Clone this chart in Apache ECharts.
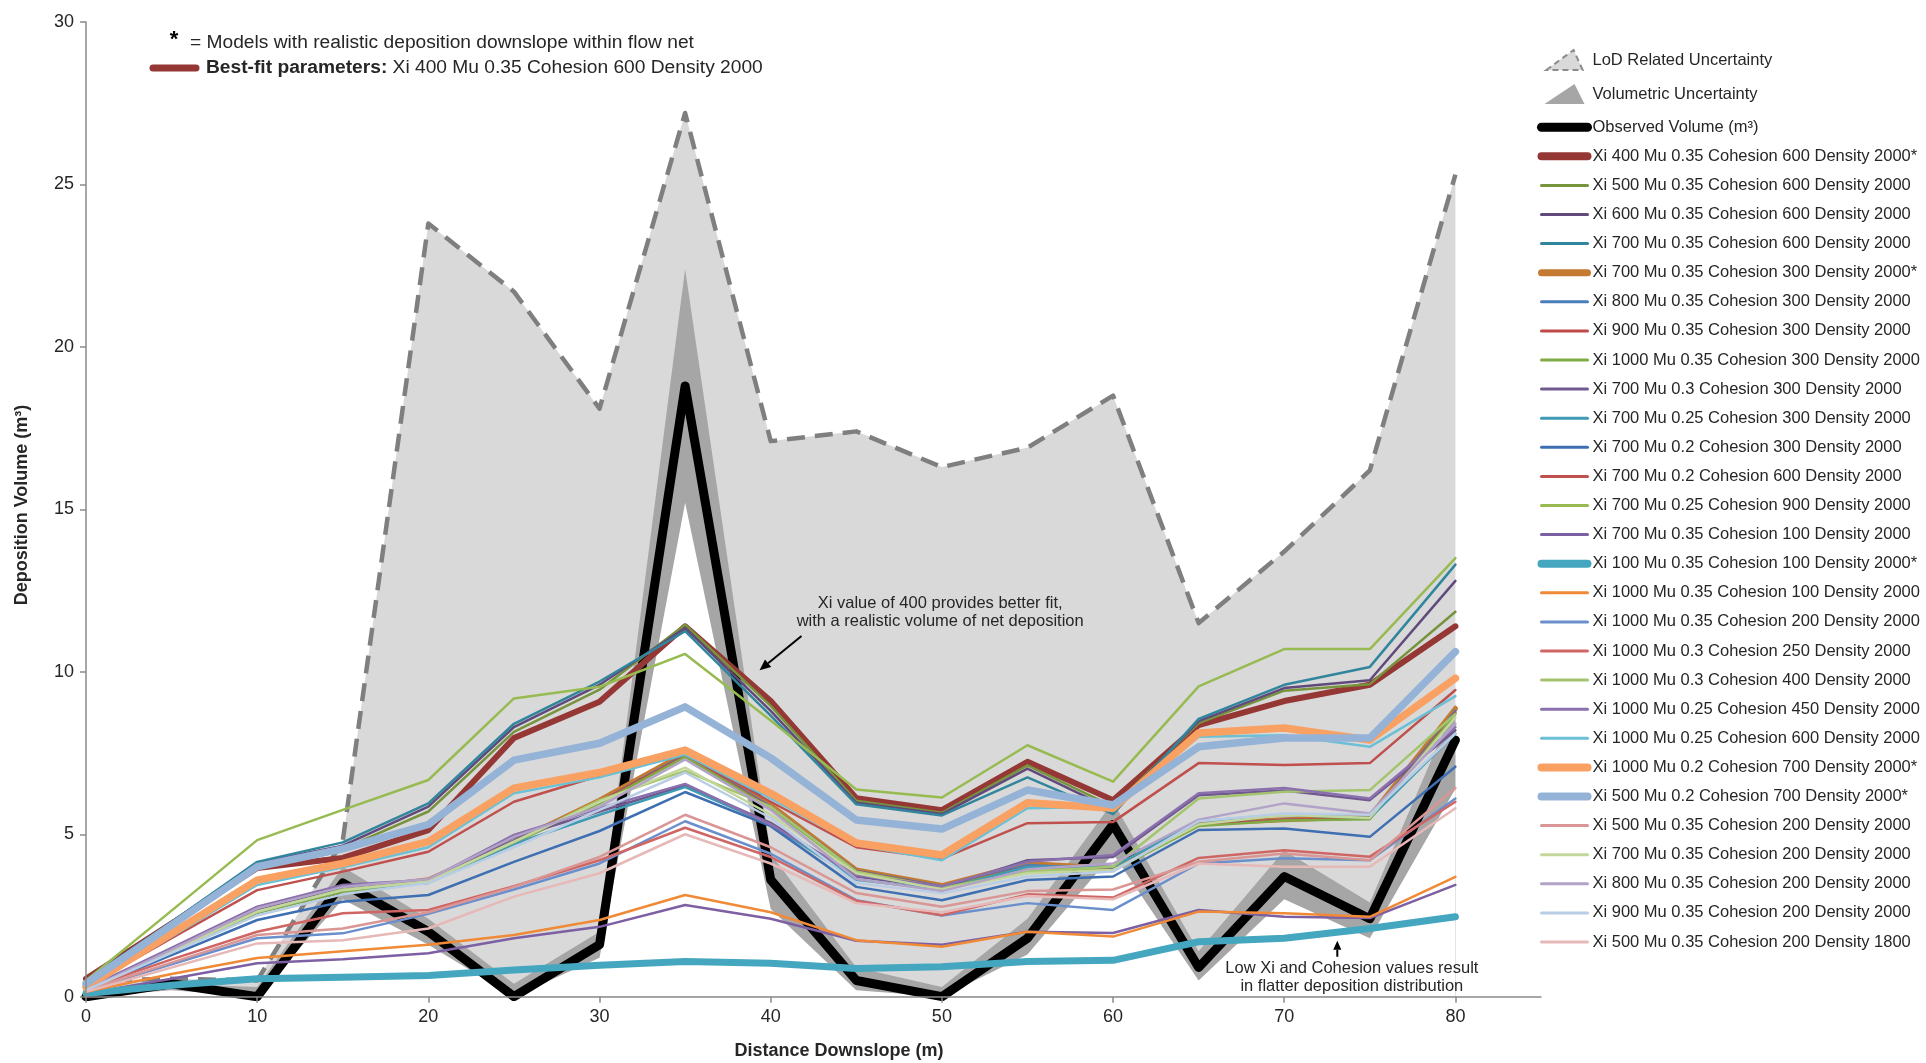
<!DOCTYPE html>
<html>
<head>
<meta charset="utf-8">
<script src="https://cdn.jsdelivr.net/npm/echarts@6.0.0/dist/echarts.min.js"></script>
<style>
  html, body { margin: 0; padding: 0; background: #ffffff; }
  #chart { width: 1926px; height: 1063px; }
</style>
</head>
<body>
<div id="chart"></div>
<script>
// Distance downslope (m) at which deposition was sampled
const distance = [0, 5, 10, 15, 20, 25, 30, 35, 40, 45, 50, 55, 60, 65, 70, 75, 80];
const xTickValues = [0, 10, 20, 30, 40, 50, 60, 70, 80];

// Observed deposition and its uncertainty envelopes (m³)
const observed = [0, 0.4, 0, 3.5, 2.0, 0, 1.6, 18.8, 3.6, 0.5, 0, 1.8, 5.3, 0.9, 3.7, 2.4, 7.9];
const volLower = [0, 0.2, 0, 3.0, 1.6, 0, 1.2, 15.2, 2.7, 0.2, 0, 1.3, 4.4, 0.5, 3.0, 1.8, 6.4];
const volUpper = [0.2, 0.4, 0.3, 4.0, 2.4, 0.4, 2.0, 22.4, 4.4, 0.9, 0.3, 2.4, 6.0, 1.4, 4.5, 2.9, 9.0];
const lodUpper = [0.5, 0.55, 0.5, 4.8, 23.8, 21.7, 18.1, 27.2, 17.1, 17.4, 16.3, 16.9, 18.5, 11.5, 13.7, 16.2, 25.3];

// Modelled deposition for each parameter set (m³)
const xi400_mu035_c600 = [0.55, 2.25, 3.96, 4.27, 5.13, 7.96, 9.08, 11.4, 9.1, 6.11, 5.74, 7.23, 6.05, 8.36, 9.1, 9.6, 11.4];
const xi500_mu035_c600 = [0.5, 2.3, 4.08, 4.55, 5.7, 8.15, 9.45, 11.45, 8.95, 6.03, 5.66, 7.12, 5.85, 8.42, 9.42, 9.62, 11.85];
const xi600_mu035_c600 = [0.5, 2.3, 4.12, 4.65, 5.85, 8.3, 9.6, 11.35, 8.8, 5.97, 5.62, 7.02, 5.75, 8.48, 9.5, 9.74, 12.8];
const xi700_mu035_c600 = [0.5, 2.3, 4.15, 4.75, 5.95, 8.4, 9.7, 11.25, 8.65, 5.92, 5.58, 6.75, 5.62, 8.55, 9.6, 10.15, 13.3];
const xi700_mu035_c300 = [0.2, 1.4, 2.62, 3.28, 3.6, 4.77, 6.05, 7.5, 5.9, 3.9, 3.42, 4.1, 3.95, 5.33, 5.45, 5.54, 8.87];
const xi800_mu035_c300 = [0.2, 1.4, 2.6, 3.25, 3.58, 4.8, 6.0, 7.45, 5.85, 3.88, 3.4, 4.05, 3.92, 5.3, 5.45, 5.5, 8.8];
const xi900_mu035_c300 = [0.2, 1.4, 2.6, 3.25, 3.56, 4.78, 6.0, 7.42, 5.82, 3.86, 3.38, 4.0, 3.9, 5.28, 5.45, 5.5, 8.75];
const xi1000_mu035_c300 = [0.2, 1.4, 2.58, 3.22, 3.54, 4.74, 5.95, 7.38, 5.8, 3.84, 3.36, 3.98, 3.88, 5.25, 5.42, 5.46, 8.7];
const xi700_mu03_c300 = [0.22, 1.45, 2.7, 3.35, 3.58, 4.9, 5.7, 6.5, 5.35, 3.7, 3.35, 4.2, 4.3, 6.2, 6.35, 6.05, 8.2];
const xi700_mu025_c300 = [0.2, 1.4, 2.6, 3.3, 3.5, 4.7, 5.6, 6.45, 5.3, 3.6, 3.3, 4.0, 4.0, 5.4, 5.6, 5.5, 8.1];
const xi700_mu02_c300 = [0.2, 1.28, 2.36, 2.92, 3.13, 4.15, 5.1, 6.3, 5.25, 3.38, 2.97, 3.59, 3.7, 5.13, 5.18, 4.92, 7.08];
const xi700_mu02_c600 = [0.3, 1.8, 3.28, 3.85, 4.46, 6.0, 6.8, 7.45, 6.0, 4.6, 4.25, 5.34, 5.38, 7.19, 7.13, 7.19, 9.44];
const xi700_mu025_c900 = [0.5, 2.65, 4.82, 5.75, 6.67, 9.18, 9.54, 10.55, 8.5, 6.38, 6.13, 7.74, 6.62, 9.55, 10.7, 10.7, 13.5];
const xi700_mu035_c100 = [0.1, 0.55, 1.03, 1.15, 1.34, 1.8, 2.15, 2.82, 2.4, 1.72, 1.6, 2.0, 1.96, 2.67, 2.46, 2.42, 3.44];
const xi100_mu035_c100 = [0.1, 0.35, 0.55, 0.6, 0.65, 0.82, 0.97, 1.08, 1.03, 0.87, 0.92, 1.08, 1.12, 1.69, 1.8, 2.1, 2.46];
const xi1000_mu035_c100 = [0.15, 0.7, 1.19, 1.4, 1.6, 1.9, 2.36, 3.13, 2.6, 1.74, 1.54, 2.0, 1.85, 2.62, 2.57, 2.46, 3.69];
const xi1000_mu035_c200 = [0.2, 1.0, 1.8, 1.95, 2.55, 3.3, 4.1, 5.4, 4.4, 2.97, 2.5, 2.88, 2.67, 4.1, 4.26, 4.2, 6.1];
const xi1000_mu03_c250 = [0.25, 1.15, 2.0, 2.57, 2.67, 3.4, 4.2, 5.2, 4.3, 2.95, 2.51, 3.15, 3.05, 4.27, 4.51, 4.31, 6.0];
const xi1000_mu03_c400 = [0.2, 1.4, 2.6, 3.3, 3.55, 4.75, 6.05, 6.95, 5.85, 3.85, 3.35, 3.85, 4.0, 6.1, 6.31, 6.36, 8.7];
const xi1000_mu025_c450 = [0.25, 1.5, 2.77, 3.44, 3.6, 4.98, 5.8, 6.55, 5.3, 3.74, 3.4, 4.15, 4.36, 6.26, 6.42, 6.1, 8.3];
const xi1000_mu025_c600 = [0.3, 1.85, 3.44, 3.98, 4.6, 6.26, 6.75, 7.45, 6.1, 4.67, 4.2, 5.8, 5.85, 8.0, 8.05, 7.69, 9.25];
const xi1000_mu02_c700 = [0.3, 1.95, 3.59, 4.1, 4.77, 6.42, 6.9, 7.59, 6.26, 4.73, 4.36, 5.97, 5.8, 8.12, 8.27, 7.9, 9.8];
const xi500_mu02_c700 = [0.4, 2.2, 4.0, 4.55, 5.3, 7.28, 7.8, 8.92, 7.35, 5.44, 5.16, 6.36, 5.9, 7.69, 7.96, 7.96, 10.62];
const xi500_mu035_c200 = [0.2, 1.05, 1.9, 2.1, 2.6, 3.38, 4.3, 5.6, 4.6, 3.19, 2.77, 3.25, 3.3, 4.15, 4.41, 4.2, 6.42];
const xi700_mu035_c200 = [0.2, 1.4, 2.62, 3.28, 3.55, 4.77, 6.0, 7.05, 5.6, 3.8, 3.3, 3.8, 3.9, 5.3, 5.6, 5.5, 8.6];
const xi800_mu035_c200 = [0.2, 1.45, 2.72, 3.38, 3.62, 4.92, 5.85, 7.3, 5.75, 3.62, 3.25, 3.92, 4.1, 5.45, 5.95, 5.64, 8.4];
const xi900_mu035_c200 = [0.2, 1.35, 2.5, 3.15, 3.5, 4.6, 5.75, 6.9, 5.5, 3.5, 3.18, 3.7, 3.85, 5.4, 5.64, 5.6, 8.1];
const xi500_mu035_c200_d1800 = [0.15, 0.9, 1.64, 1.74, 2.1, 3.08, 3.8, 5.0, 4.1, 2.88, 2.6, 3.1, 3.0, 4.1, 4.0, 4.0, 5.8];

// Parameter-set labels, in legend order
const modelNames = [
  'Xi 400 Mu 0.35 Cohesion 600 Density 2000*',
  'Xi 500 Mu 0.35 Cohesion 600 Density 2000',
  'Xi 600 Mu 0.35 Cohesion 600 Density 2000',
  'Xi 700 Mu 0.35 Cohesion 600 Density 2000',
  'Xi 700 Mu 0.35 Cohesion 300 Density 2000*',
  'Xi 800 Mu 0.35 Cohesion 300 Density 2000',
  'Xi 900 Mu 0.35 Cohesion 300 Density 2000',
  'Xi 1000 Mu 0.35 Cohesion 300 Density 2000',
  'Xi 700 Mu 0.3 Cohesion 300 Density 2000',
  'Xi 700 Mu 0.25 Cohesion 300 Density 2000',
  'Xi 700 Mu 0.2 Cohesion 300 Density 2000',
  'Xi 700 Mu 0.2 Cohesion 600 Density 2000',
  'Xi 700 Mu 0.25 Cohesion 900 Density 2000',
  'Xi 700 Mu 0.35 Cohesion 100 Density 2000',
  'Xi 100 Mu 0.35 Cohesion 100 Density 2000*',
  'Xi 1000 Mu 0.35 Cohesion 100 Density 2000',
  'Xi 1000 Mu 0.35 Cohesion 200 Density 2000',
  'Xi 1000 Mu 0.3 Cohesion 250 Density 2000',
  'Xi 1000 Mu 0.3 Cohesion 400 Density 2000',
  'Xi 1000 Mu 0.25 Cohesion 450 Density 2000',
  'Xi 1000 Mu 0.25 Cohesion 600 Density 2000',
  'Xi 1000 Mu 0.2 Cohesion 700 Density 2000*',
  'Xi 500 Mu 0.2 Cohesion 700 Density 2000*',
  'Xi 500 Mu 0.35 Cohesion 200 Density 2000',
  'Xi 700 Mu 0.35 Cohesion 200 Density 2000',
  'Xi 800 Mu 0.35 Cohesion 200 Density 2000',
  'Xi 900 Mu 0.35 Cohesion 200 Density 2000',
  'Xi 500 Mu 0.35 Cohesion 200 Density 1800'
];
const modelValues = [
  xi400_mu035_c600, xi500_mu035_c600, xi600_mu035_c600, xi700_mu035_c600,
  xi700_mu035_c300, xi800_mu035_c300, xi900_mu035_c300, xi1000_mu035_c300,
  xi700_mu03_c300, xi700_mu025_c300, xi700_mu02_c300, xi700_mu02_c600,
  xi700_mu025_c900, xi700_mu035_c100, xi100_mu035_c100, xi1000_mu035_c100,
  xi1000_mu035_c200, xi1000_mu03_c250, xi1000_mu03_c400, xi1000_mu025_c450,
  xi1000_mu025_c600, xi1000_mu02_c700, xi500_mu02_c700, xi500_mu035_c200,
  xi700_mu035_c200, xi800_mu035_c200, xi900_mu035_c200, xi500_mu035_c200_d1800
];

// Line styling per parameter set: [colour, plotted width, legend width]
const modelStyles = [
  ['#953735', 6, 8], ['#77933c', 2.5, 3], ['#604a7b', 2.5, 3], ['#31859c', 2.5, 3],
  ['#c47a31', 5, 7], ['#4a7ebb', 2.5, 3], ['#be4b48', 2.5, 3], ['#7faa45', 2.5, 3],
  ['#70598f', 2.5, 3], ['#3f9bb3', 2.5, 3], ['#3e6fb2', 2.5, 3], ['#c0504d', 2.5, 3],
  ['#97bb50', 2.5, 3], ['#7d5fa3', 2.5, 3], ['#44a7bf', 7, 8], ['#f08a36', 2.5, 3],
  ['#6b8fcc', 2.5, 3], ['#d06664', 2.5, 3], ['#a4c56d', 2.5, 3], ['#8a70ad', 2.5, 3],
  ['#6cc0d5', 2.5, 3], ['#f9a063', 7.5, 8], ['#95b3d7', 7.5, 8], ['#d99694', 2.5, 3],
  ['#c3d69b', 2.5, 3], ['#b3a2c7', 2.5, 3], ['#b9cde5', 2.5, 3], ['#e6b9b8', 2.5, 3]
];

const FONT = '"Liberation Sans", Arial, Helvetica, sans-serif';
const TEXT = '#262626';

const pairs = vals => distance.map((d, i) => [d, vals[i]]);

const chart = echarts.init(document.getElementById('chart'), null, { renderer: 'canvas' });

const series = [
  { // light grey band up to the LoD limit
    name: 'LoD Related Uncertainty', type: 'line', data: pairs(lodUpper),
    symbol: 'none', silent: true, color: '#d9d9d9',
    lineStyle: { width: 0 }, areaStyle: { color: '#d9d9d9', opacity: 1 }
  },
  { // volumetric envelope
    name: 'Volumetric Uncertainty', type: 'line', data: pairs(volUpper),
    symbol: 'none', silent: true, color: '#a6a6a6',
    lineStyle: { width: 0 }, areaStyle: { color: '#a6a6a6', opacity: 1 }
  },
  { // clears everything beneath the lower volumetric bound
    name: 'volume-floor', type: 'line', data: pairs(volLower),
    symbol: 'none', silent: true, color: '#ffffff',
    lineStyle: { width: 0 }, areaStyle: { color: '#ffffff', opacity: 1 }
  },
  { // dashed LoD limit
    name: 'lod-edge', type: 'line', data: pairs(lodUpper),
    symbol: 'none', silent: true, color: '#7f7f7f',
    lineStyle: { color: '#7f7f7f', width: 4.5, type: [18, 10], join: 'round' }
  },
  {
    name: 'Observed Volume (m³)', type: 'line', data: pairs(observed),
    symbol: 'none', silent: true, color: '#000000',
    lineStyle: { color: '#000000', width: 9, join: 'round', cap: 'round' }
  }
];

modelNames.forEach((name, i) => {
  const [c, w] = modelStyles[i];
  series.push({
    name, type: 'line', data: pairs(modelValues[i]),
    symbol: 'none', silent: true, color: c,
    lineStyle: { color: c, width: w, join: 'round', cap: 'round' }
  });
});

const legendData = [
  { name: 'LoD Related Uncertainty', icon: 'path://M0,22 L30,0 L40,22 Z',
    itemStyle: { opacity: 1, color: '#d9d9d9', borderColor: '#8c8c8c', borderWidth: 2, borderType: [6, 4] } },
  { name: 'Volumetric Uncertainty', icon: 'path://M0,20 L30,0 L40,20 Z',
    itemStyle: { opacity: 1, color: '#a6a6a6', borderWidth: 0 },
    textStyle: { lineHeight: 28 } },
  { name: 'Observed Volume (m³)', lineStyle: { width: 9, cap: 'round' } }
].concat(modelNames.map((name, i) => ({ name, lineStyle: { width: modelStyles[i][2], cap: 'round' } })));

const option = {
  animation: false,
  backgroundColor: '#ffffff',
  grid: { left: 86, top: 22, width: 1455, height: 974.7, containLabel: false },
  xAxis: {
    type: 'value', min: 0, max: 85, interval: 10, z: 10,
    axisLine: { show: true, lineStyle: { color: '#8a8a8a', width: 1.5 } },
    axisTick: { show: true, length: 6, customValues: xTickValues, lineStyle: { color: '#8a8a8a', width: 1.5 } },
    axisLabel: { customValues: xTickValues, margin: 11, fontFamily: FONT, fontSize: 18, color: TEXT },
    splitLine: { show: false }
  },
  yAxis: {
    type: 'value', min: 0, max: 30, interval: 5, z: 10,
    axisLine: { show: true, lineStyle: { color: '#8a8a8a', width: 1.5 } },
    axisTick: { show: true, length: 6, lineStyle: { color: '#8a8a8a', width: 1.5 } },
    axisLabel: { margin: 12, fontFamily: FONT, fontSize: 18, color: TEXT },
    splitLine: { show: false }
  },
  legend: {
    orient: 'vertical', left: 1537, top: 49, padding: 0,
    itemWidth: 46, itemHeight: 20, itemGap: 9.1,
    selectedMode: false,
    itemStyle: { opacity: 0 },
    textStyle: { fontFamily: FONT, fontSize: 16.5, lineHeight: 20, color: TEXT },
    data: legendData
  },
  series
};

chart.setOption(option);

// Annotations anchored to data coordinates
const px = (x, y) => chart.convertToPixel({ gridIndex: 0 }, [x, y]);

function arrow(from, to, head) {
  const [x1, y1] = px(from[0], from[1]);
  const [x2, y2] = px(to[0], to[1]);
  const ang = Math.atan2(y2 - y1, x2 - x1);
  const hl = head, hw = head * 0.45;
  const bx = x2 - hl * Math.cos(ang), by = y2 - hl * Math.sin(ang);
  const nx = -Math.sin(ang), ny = Math.cos(ang);
  return [
    { type: 'line', silent: true, z: 20,
      shape: { x1, y1, x2: bx, y2: by }, style: { stroke: '#000', lineWidth: 2 } },
    { type: 'polygon', silent: true, z: 20,
      shape: { points: [[x2, y2], [bx + nx * hw, by + ny * hw], [bx - nx * hw, by - ny * hw]] },
      style: { fill: '#000' } }
  ];
}

const note1 = px(49.9, 11.84);
const note2 = px(73.95, 0.6);

const graphics = [
  // axis titles
  { type: 'text', x: 22, y: 505, rotation: Math.PI / 2, silent: true,
    style: { text: 'Deposition Volume (m³)', fontFamily: FONT, fontSize: 18, fontWeight: 'bold',
             fill: TEXT, align: 'center', verticalAlign: 'middle' } },
  { type: 'text', x: 839, y: 1051, silent: true,
    style: { text: 'Distance Downslope (m)', fontFamily: FONT, fontSize: 18, fontWeight: 'bold',
             fill: TEXT, align: 'center', verticalAlign: 'middle' } },
  // key notes, top left
  { type: 'text', x: 174, y: 40, silent: true,
    style: { text: '*', fontFamily: FONT, fontSize: 22, fontWeight: 'bold', fill: '#000',
             align: 'center', verticalAlign: 'middle' } },
  { type: 'text', x: 190, y: 43, silent: true,
    style: { text: '= Models with realistic deposition downslope within flow net', fontFamily: FONT,
             fontSize: 19.2, fill: TEXT, align: 'left', verticalAlign: 'middle' } },
  { type: 'line', silent: true, shape: { x1: 153, y1: 68, x2: 196, y2: 68 },
    style: { stroke: '#953735', lineWidth: 7, lineCap: 'round' } },
  { type: 'text', x: 206, y: 68, silent: true,
    style: { text: '{b|Best-fit parameters:} Xi 400 Mu 0.35 Cohesion 600 Density 2000', fontFamily: FONT,
             fontSize: 19.2, fill: TEXT, align: 'left', verticalAlign: 'middle',
             rich: { b: { fontFamily: FONT, fontSize: 19.2, fontWeight: 'bold', fill: TEXT } } } },
  // in-plot callouts
  { type: 'text', x: note1[0], y: note1[1], silent: true, z: 20,
    style: { text: 'Xi value of 400 provides better fit,\nwith a realistic volume of net deposition',
             fontFamily: FONT, fontSize: 16.5, lineHeight: 18, fill: TEXT, align: 'center', verticalAlign: 'middle' } },
  { type: 'text', x: note2[0], y: note2[1], silent: true, z: 20,
    style: { text: 'Low Xi and Cohesion values result\nin flatter deposition distribution',
             fontFamily: FONT, fontSize: 16.5, lineHeight: 18, fill: TEXT, align: 'center', verticalAlign: 'middle' } }
].concat(arrow([41.8, 11.1], [39.35, 10.05], 11), arrow([73.1, 1.23], [73.1, 1.72], 9));

chart.setOption({ graphic: graphics });
</script>
</body>
</html>
